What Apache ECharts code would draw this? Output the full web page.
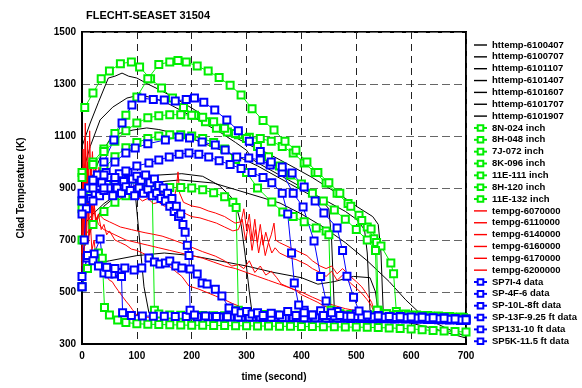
<!DOCTYPE html>
<html>
<head>
<meta charset="utf-8">
<script src="https://cdn.jsdelivr.net/npm/echarts@6/dist/echarts.min.js"></script>
<style>
  html, body { margin: 0; padding: 0; background: #fff; }
  #chart { width: 582px; height: 388px; }
</style>
</head>
<body>
<div id="chart"></div>
<script>
// black httemp curves
var ht6100407 = [[0,650],[20,760],[40,830],[60,865],[75,890],[91,908],[97,880],[105,700],[113,520],[122,420],[135,408],[160,405],[200,404],[300,402],[400,400],[500,398],[600,396],[700,394]];
var ht6100707 = [[0,800],[30,860],[60,900],[100,930],[140,950],[182,955],[220,945],[250,910],[270,870],[280,840],[290,760],[297,650],[305,500],[310,420],[325,408],[400,404],[500,400],[600,397],[700,394]];
var ht6101107 = [[0,850],[20,950],[40,1050],[56,1104],[93,1123],[118,1131],[140,1125],[170,1110],[200,1090],[230,1065],[260,1040],[290,1015],[320,985],[350,950],[380,915],[410,880],[440,845],[450,820],[455,700],[460,430],[475,410],[520,404],[600,400],[700,395]];
var ht6101407 = [[0,1060],[15,1150],[30,1230],[48,1323],[60,1330],[73,1342],[85,1330],[100,1323],[120,1300],[142,1277],[166,1250],[191,1219],[215,1188],[240,1150],[264,1112],[288,1085],[312,1058],[337,1035],[361,1008],[390,975],[420,940],[450,900],[480,860],[500,830],[530,790],[540,760],[545,650],[549,430],[560,410],[600,402],[650,398],[700,394]];
var ht6101607 = [[0,950],[15,1060],[33,1162],[56,1211],[82,1246],[106,1258],[130,1246],[155,1227],[179,1200],[205,1170],[230,1140],[255,1110],[280,1075],[300,1045],[312,1008],[330,985],[360,950],[390,915],[420,880],[450,845],[480,810],[500,780],[515,740],[520,650],[525,430],[540,410],[600,402],[650,398],[700,394]];
var ht6101707 = [[0,750],[20,800],[40,840],[60,870],[80,895],[100,912],[137,923],[179,931],[240,919],[300,881],[361,842],[400,800],[440,750],[480,690],[520,620],[560,540],[590,470],[620,410],[650,375],[680,345],[700,330]];
var ht6101907 = [[0,600],[50,620],[100,640],[150,650],[200,640],[250,620],[300,600],[350,575],[400,555],[430,530],[460,540],[495,560],[525,555],[535,500],[540,420],[560,400],[600,380],[640,360],[680,335],[700,323]];

// green thermocouple data
var g8N024 = [[0,520],[10,590],[20,630],[30,650],[37,630],[41,440],[50,412],[65,392],[80,383],[100,378],[120,376],[140,375],[160,374],[180,373],[200,372],[220,372],[240,371],[260,371],[280,370],[300,370],[320,369],[340,369],[360,368],[380,368],[400,367],[420,367],[440,366],[460,366],[480,365],[500,365],[520,364],[540,363],[560,362],[580,360],[600,358],[620,355],[640,352],[660,350],[680,348],[700,346]];
var g8H048 = [[0,820],[15,870],[30,905],[45,925],[60,935],[75,938],[90,935],[105,928],[120,915],[128,900],[132,430],[140,415],[160,412],[180,411],[200,410],[220,410],[240,409],[260,409],[280,408],[300,408],[320,407],[340,407],[360,406],[380,406],[400,406],[420,405],[440,405],[460,404],[480,404],[500,403],[520,403],[540,402],[560,402],[580,401],[600,401],[620,400],[640,400],[660,399],[680,398],[700,397]];
var g7J072 = [[0,700],[20,760],[40,810],[60,845],[80,870],[100,885],[120,895],[140,900],[160,902],[180,902],[200,900],[220,893],[240,882],[260,866],[275,845],[281,825],[285,430],[295,418],[315,414],[335,413],[355,412],[375,411],[395,411],[415,410],[435,410],[455,409],[475,409],[495,408],[515,408],[535,407],[555,407],[575,406],[595,405],[615,404],[635,403],[655,402],[675,401],[695,400]];
var g8K096 = [[0,850],[20,920],[40,975],[60,1020],[80,1055],[100,1075],[120,1090],[140,1100],[160,1105],[180,1105],[200,1100],[220,1090],[240,1075],[260,1050],[280,1010],[300,960],[320,900],[346,846],[366,808],[385,790],[405,770],[427,746],[445,735],[450,720],[454,430],[470,416],[490,413],[510,412],[530,411],[550,410],[570,409],[590,408],[610,407],[630,405],[650,404],[670,402],[690,401]];
var g11E111 = [[5,1210],[20,1265],[35,1320],[50,1350],[70,1378],[90,1385],[105,1365],[125,1320],[145,1285],[165,1246],[185,1210],[205,1180],[225,1155],[245,1130],[265,1115],[285,1105],[305,1095],[325,1090],[345,1080],[365,1060],[385,1035],[405,996],[425,960],[445,919],[465,880],[485,840],[505,795],[520,750],[532,705],[537,690],[540,430],[555,416],[575,413],[595,411],[615,409],[635,407],[655,405],[675,403],[695,401]];
var g8H120 = [[0,960],[20,1000],[40,1050],[60,1110],[80,1180],[100,1250],[120,1320],[140,1375],[160,1385],[175,1390],[190,1385],[210,1369],[230,1350],[250,1325],[270,1295],[290,1258],[310,1205],[330,1160],[350,1123],[370,1080],[390,1045],[410,1000],[430,960],[450,920],[470,880],[490,830],[510,775],[527,742],[545,677],[563,612],[568,570],[573,425],[590,415],[610,412],[630,410],[650,408],[670,406],[690,404]];
var g11E132 = [[0,940],[20,990],[40,1040],[60,1080],[80,1120],[100,1150],[120,1170],[140,1178],[160,1182],[180,1182],[200,1180],[220,1172],[240,1155],[260,1130],[280,1110],[300,1090],[320,1060],[340,1020],[360,985],[380,950],[400,915],[420,880],[440,850],[460,815],[480,780],[500,740],[520,700],[535,660],[538,430],[555,416],[575,413],[595,411],[615,409],[635,407],[655,405],[675,403],[695,401]];

// red tempg curves
var tg6070000 = [[0,560],[2,820],[4,640],[6,930],[8,700],[10,880],[12,690],[15,780],[18,660],[22,700],[26,620],[30,600],[35,585],[40,570],[45,560],[50,545],[55,540],[60,523],[66,505],[73,485],[80,465],[86,450],[92,432],[97,419],[102,408],[110,404],[130,402],[160,402],[200,403],[250,404],[300,405],[400,405],[500,406],[600,407],[700,408]];
var tg6110000 = [[0,650],[2,980],[4,760],[6,1100],[8,800],[10,1000],[12,820],[15,930],[18,790],[21,880],[25,760],[30,800],[35,740],[40,760],[45,720],[50,735],[60,700],[70,690],[80,680],[90,665],[100,660],[110,650],[120,640],[130,630],[140,620],[150,610],[160,598],[170,580],[182,560],[195,523],[213,511],[228,498],[243,485],[260,470],[275,455],[286,446],[295,430],[305,415],[320,410],[360,408],[450,407],[550,407],[700,406]];
var tg6140000 = [[0,720],[2,1050],[4,820],[6,1150],[8,880],[10,1080],[12,900],[14,1120],[16,920],[19,1040],[22,900],[25,1000],[28,880],[31,980],[35,900],[40,960],[45,910],[50,950],[55,900],[60,940],[70,910],[80,930],[90,900],[100,915],[110,890],[120,905],[130,880],[140,890],[150,870],[160,875],[168,860],[172,900],[175,962],[178,880],[185,845],[200,831],[215,825],[230,812],[243,804],[260,790],[279,765],[290,770],[295,820],[300,740],[305,800],[310,700],[315,780],[320,690],[325,760],[330,680],[335,730],[340,690],[345,720],[350,765],[353,700],[360,690],[370,680],[380,670],[390,660],[400,650],[410,640],[420,620],[434,600],[445,590],[455,600],[465,570],[475,590],[489,560],[500,540],[510,520],[520,490],[528,460],[534,420],[545,410],[600,408],[700,405]];
var tg6160000 = [[0,680],[2,950],[4,760],[6,1050],[8,820],[10,990],[13,850],[16,1000],[19,860],[22,950],[26,850],[30,920],[35,860],[40,900],[50,880],[60,890],[70,860],[80,880],[90,860],[100,870],[110,850],[120,860],[130,840],[140,845],[150,830],[160,835],[175,820],[190,800],[200,790],[215,785],[230,775],[245,765],[260,750],[275,735],[285,740],[292,780],[298,700],[304,760],[310,660],[316,740],[322,650],[328,720],[334,640],[340,690],[346,650],[352,670],[360,650],[370,640],[380,630],[390,625],[400,615],[410,605],[420,590],[434,575],[445,560],[455,580],[465,545],[475,565],[489,535],[500,515],[510,495],[520,470],[528,445],[534,415],[545,408],[600,406],[700,404]];
var tg6170000 = [[0,620],[3,880],[6,700],[9,960],[12,760],[15,900],[18,750],[22,840],[26,760],[30,800],[40,780],[50,770],[60,760],[70,750],[80,745],[90,740],[100,735],[115,728],[130,722],[146,715],[160,705],[182,688],[200,672],[220,655],[243,638],[260,620],[273,600],[285,605],[295,590],[305,620],[315,575],[325,600],[335,565],[345,580],[355,555],[363,531],[375,520],[390,505],[400,490],[415,475],[430,460],[441,446],[455,438],[470,430],[485,425],[496,419],[510,414],[525,410],[550,408],[600,406],[700,404]];
var tg6200000 = [[0,600],[3,850],[6,680],[10,900],[14,720],[20,820],[30,760],[40,740],[60,720],[80,700],[100,690],[120,680],[140,670],[160,660],[180,650],[200,640],[220,630],[240,615],[260,600],[280,590],[300,575],[320,560],[340,545],[360,530],[380,515],[400,500],[420,480],[440,462],[460,448],[480,436],[500,428],[520,420],[550,415],[600,412],[650,410],[700,408]];

// blue SP data
var spSP7I4 = [[0,520],[9,631],[22,646],[33,704],[40,573],[49,569],[60,569],[68,575],[72,560],[74,420],[90,410],[110,408],[130,407],[150,407],[170,406],[190,406],[210,405],[230,405],[250,404],[270,404],[290,403],[310,403],[330,402],[350,402],[370,401],[390,401],[410,400],[430,400],[450,399],[470,399],[490,398],[510,398],[530,397],[550,397],[570,396],[590,396],[610,395],[630,394],[650,393],[670,392],[690,390]];
var spSP4F6 = [[0,520],[4,700],[8,820],[12,900],[16,860],[20,930],[24,880],[28,950],[32,870],[36,920],[40,890],[44,960],[48,900],[52,940],[56,870],[60,930],[64,900],[68,955],[72,880],[76,925],[80,905],[84,960],[88,890],[92,935],[96,870],[100,945],[104,900],[108,930],[112,880],[116,950],[120,895],[124,920],[128,870],[132,935],[136,880],[140,910],[144,860],[148,900],[152,850],[156,880],[160,830],[164,860],[168,810],[172,830],[176,790],[180,800],[184,760],[188,730],[192,680],[195,640],[197,430],[205,412],[225,408],[245,406],[265,405],[285,404],[305,404],[325,403],[345,403],[365,402],[385,402],[405,401],[425,401],[445,400],[465,400],[485,399],[505,399],[525,398],[545,398],[565,397],[585,397],[605,396],[625,395],[645,394],[665,393],[685,392]];
var spSP10L8 = [[0,560],[10,640],[20,620],[30,600],[45,595],[60,590],[78,592],[95,585],[109,592],[122,631],[132,615],[142,608],[152,612],[160,619],[171,600],[182,592],[197,588],[210,569],[219,535],[228,531],[243,511],[255,485],[268,438],[280,427],[290,420],[300,425],[310,415],[320,420],[330,410],[345,418],[360,412],[375,425],[390,410],[405,430],[420,412],[435,428],[450,410],[465,425],[480,408],[500,415],[520,405],[540,410],[560,404],[580,406],[600,402],[620,404],[640,400],[660,401],[680,398],[700,396]];
var spSP13F925 = [[0,800],[20,850],[40,900],[60,940],[80,965],[100,985],[122,996],[140,1008],[159,1019],[177,1030],[195,1035],[213,1030],[231,1019],[250,1005],[270,990],[290,975],[310,960],[330,940],[346,920],[365,880],[375,800],[382,650],[387,535],[395,450],[405,420],[420,412],[440,410],[460,408],[480,407],[500,406],[520,405],[540,404],[560,403],[580,402],[600,401],[620,400],[640,398],[660,396],[680,394],[700,390]];
var spSP13110 = [[0,850],[20,900],[40,950],[60,1000],[80,1035],[97,1054],[120,1070],[152,1085],[177,1096],[196,1092],[219,1077],[243,1065],[261,1046],[282,1019],[304,1015],[325,1008],[343,988],[365,960],[385,880],[403,827],[423,696],[435,560],[445,465],[455,420],[470,410],[490,407],[510,405],[530,404],[550,403],[570,402],[590,401],[610,400],[630,399],[650,397],[670,395],[690,392]];
var spSP5K115 = [[0,880],[20,930],[40,1000],[58,1085],[73,1150],[91,1219],[109,1246],[130,1240],[150,1238],[170,1235],[190,1240],[205,1246],[222,1230],[242,1200],[264,1162],[285,1120],[305,1080],[325,1040],[345,1000],[365,981],[383,958],[405,904],[425,850],[441,804],[465,746],[475,660],[483,561],[495,480],[505,427],[520,412],[540,408],[560,406],[580,405],[600,404],[620,403],[640,401],[660,399],[680,396],[700,393]];

var blackSet = [
  ['httemp-6100407', ht6100407], ['httemp-6100707', ht6100707], ['httemp-6101107', ht6101107],
  ['httemp-6101407', ht6101407], ['httemp-6101607', ht6101607], ['httemp-6101707', ht6101707],
  ['httemp-6101907', ht6101907]
];
var greenSet = [
  ['8N-024 inch', g8N024], ['8H-048 inch', g8H048], ['7J-072 inch', g7J072], ['8K-096 inch', g8K096],
  ['11E-111 inch', g11E111], ['8H-120 inch', g8H120], ['11E-132 inch', g11E132]
];
var redSet = [
  ['tempg-6070000', tg6070000], ['tempg-6110000', tg6110000], ['tempg-6140000', tg6140000],
  ['tempg-6160000', tg6160000], ['tempg-6170000', tg6170000], ['tempg-6200000', tg6200000]
];
var blueSet = [
  ['SP7I-4 data', spSP7I4], ['SP-4F-6 data', spSP4F6], ['SP-10L-8ft data', spSP10L8],
  ['SP-13F-9.25 ft data', spSP13F925], ['SP131-10 ft data', spSP13110], ['SP5K-11.5 ft data', spSP5K115]
];

var lineIcon = 'path://M0,0h12v1.3h-12z';

function plain(item, color) {
  return {
    name: item[0], type: 'line', data: item[1], symbol: 'none', silent: true,
    lineStyle: { color: color, width: 1 }, itemStyle: { color: color }
  };
}
function marked(item, color) {
  return {
    name: item[0], type: 'line', data: item[1], symbol: 'emptyRect', symbolSize: 7,
    showAllSymbol: true, silent: true,
    lineStyle: { color: color, width: 1 }, itemStyle: { color: color, borderWidth: 1 }
  };
}

var series = [];
var legendData = [];
blackSet.forEach(function (s) { series.push(plain(s, '#000')); legendData.push({ name: s[0], icon: lineIcon }); });
greenSet.forEach(function (s) { series.push(marked(s, '#00ee00')); legendData.push({ name: s[0] }); });
redSet.forEach(function (s) { series.push(plain(s, '#ff0000')); legendData.push({ name: s[0], icon: lineIcon }); });
blueSet.forEach(function (s) { series.push(marked(s, '#0000ff')); legendData.push({ name: s[0] }); });

var chart = echarts.init(document.getElementById('chart'));
var boldFont = { fontFamily: 'Arial, "Liberation Sans", sans-serif', fontWeight: 'bold', color: '#000' };

chart.setOption({
  animation: false,
  title: {
    text: 'FLECHT-SEASET 31504', left: 81, top: 5,
    textStyle: Object.assign({ fontSize: 11 }, boldFont)
  },
  legend: {
    orient: 'vertical', left: 468, top: 35, itemGap: 1.85, itemWidth: 13, itemHeight: 7,
    textStyle: Object.assign({ fontSize: 9.5 }, boldFont),
    data: legendData
  },
  grid: { left: 82, top: 32, right: 116, bottom: 44, show: true, borderColor: '#000', borderWidth: 2 },
  xAxis: {
    type: 'value', min: 0, max: 700, interval: 100,
    name: 'time (second)', nameLocation: 'middle', nameGap: 28,
    nameTextStyle: Object.assign({ fontSize: 10 }, boldFont),
    axisLine: { lineStyle: { color: '#000', width: 2 } },
    axisTick: { show: false },
    axisLabel: Object.assign({ fontSize: 10, margin: 7, formatter: function (v) { return String(v); } }, boldFont),
    splitLine: { lineStyle: { color: '#222', type: [7, 5], width: 1 } }
  },
  yAxis: {
    type: 'value', min: 300, max: 1500, interval: 200,
    name: 'Clad Temperature (K)', nameLocation: 'middle', nameGap: 56, nameRotate: 90,
    nameTextStyle: Object.assign({ fontSize: 10 }, boldFont),
    axisLine: { lineStyle: { color: '#000', width: 2 } },
    axisTick: { show: false },
    axisLabel: Object.assign({ fontSize: 10, margin: 6, formatter: function (v) { return String(v); } }, boldFont),
    splitLine: { lineStyle: { color: '#666', type: [8, 4], width: 1 } }
  },
  series: series
});
</script>
</body>
</html>
